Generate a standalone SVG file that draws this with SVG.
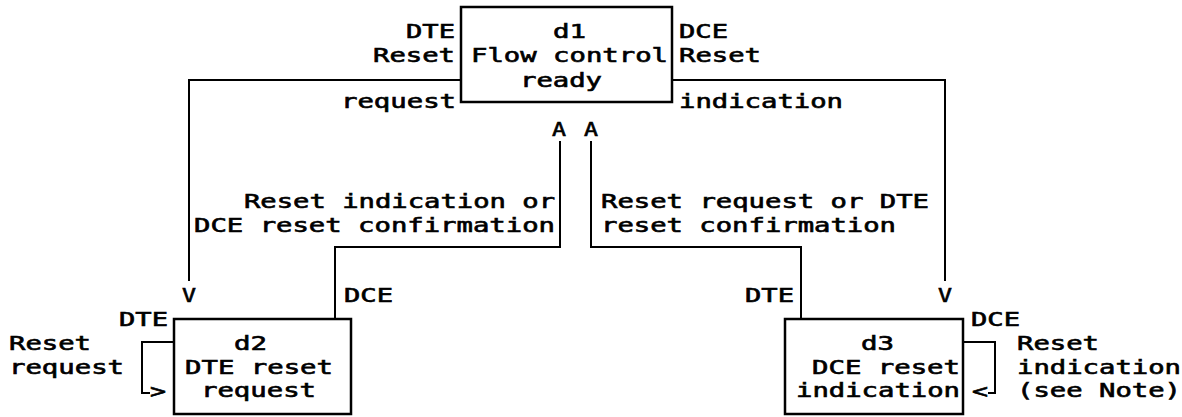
<svg xmlns="http://www.w3.org/2000/svg" width="1182" height="417" viewBox="0 0 1182 417">
<style>
  text { font-family: "DejaVu Sans Mono", "Liberation Mono", monospace; font-size: 19px; fill: #000; stroke: #000; stroke-width: 0.6px; }
  .box { fill: #fff; stroke: #000; stroke-width: 2.5; }
  .conn { fill: none; stroke: #000; stroke-width: 2; }
</style>
<rect width="1182" height="417" fill="#fff"/>
<g id="connectors">
  <path class="conn" d="M461,80 H189 V281"/>
  <path class="conn" d="M672,80 H945 V281"/>
  <path class="conn" d="M560,141 V247 H335 V319"/>
  <path class="conn" d="M591,141 V247 H801 V319"/>
  <path class="conn" d="M174,342 H142 V393 H150"/>
  <path class="conn" d="M963,342 H995 V393 H988"/>
  <text x="182" y="302" textLength="14" lengthAdjust="spacingAndGlyphs">V</text>
  <text x="938" y="302" textLength="14" lengthAdjust="spacingAndGlyphs">V</text>
  <text x="552" y="136" textLength="14" lengthAdjust="spacingAndGlyphs">A</text>
  <text x="584" y="136" textLength="14" lengthAdjust="spacingAndGlyphs">A</text>
  <text x="150" y="398" textLength="16" lengthAdjust="spacingAndGlyphs">&gt;</text>
  <text x="972" y="398" textLength="16" lengthAdjust="spacingAndGlyphs">&lt;</text>
  <text x="406" y="38" textLength="49" lengthAdjust="spacingAndGlyphs">DTE</text>
  <text x="373" y="62" textLength="82" lengthAdjust="spacingAndGlyphs">Reset</text>
  <text x="341" y="108" textLength="115" lengthAdjust="spacingAndGlyphs">request</text>
  <text x="679" y="38" textLength="49" lengthAdjust="spacingAndGlyphs">DCE</text>
  <text x="679" y="62" textLength="82" lengthAdjust="spacingAndGlyphs">Reset</text>
  <text x="679" y="108" textLength="164" lengthAdjust="spacingAndGlyphs">indication</text>
  <text x="244" y="208" textLength="311" lengthAdjust="spacingAndGlyphs">Reset indication or</text>
  <text x="194" y="232" textLength="361" lengthAdjust="spacingAndGlyphs">DCE reset confirmation</text>
  <text x="601" y="208" textLength="328" lengthAdjust="spacingAndGlyphs">Reset request or DTE</text>
  <text x="601" y="232" textLength="295" lengthAdjust="spacingAndGlyphs">reset confirmation</text>
  <text x="344" y="302" textLength="49" lengthAdjust="spacingAndGlyphs">DCE</text>
  <text x="745" y="302" textLength="49" lengthAdjust="spacingAndGlyphs">DTE</text>
  <text x="119" y="326" textLength="49" lengthAdjust="spacingAndGlyphs">DTE</text>
  <text x="971" y="326" textLength="49" lengthAdjust="spacingAndGlyphs">DCE</text>
  <text x="9" y="350" textLength="82" lengthAdjust="spacingAndGlyphs">Reset</text>
  <text x="9" y="374" textLength="115" lengthAdjust="spacingAndGlyphs">request</text>
  <text x="1017" y="350" textLength="82" lengthAdjust="spacingAndGlyphs">Reset</text>
  <text x="1017" y="374" textLength="164" lengthAdjust="spacingAndGlyphs">indication</text>
  <text x="1017" y="397" textLength="164" lengthAdjust="spacingAndGlyphs">(see Note)</text>
</g>
<g id="d1">
  <rect class="box" x="461" y="7" width="211" height="95"/>
  <text x="553" y="38" textLength="33" lengthAdjust="spacingAndGlyphs">d1</text>
  <text x="471" y="62" textLength="197" lengthAdjust="spacingAndGlyphs">Flow control</text>
  <text x="520" y="87" textLength="82" lengthAdjust="spacingAndGlyphs">ready</text>
</g>
<g id="d2">
  <rect class="box" x="174" y="319" width="177" height="95"/>
  <text x="234" y="350" textLength="33" lengthAdjust="spacingAndGlyphs">d2</text>
  <text x="185" y="374" textLength="148" lengthAdjust="spacingAndGlyphs">DTE reset</text>
  <text x="201" y="397" textLength="115" lengthAdjust="spacingAndGlyphs">request</text>
</g>
<g id="d3">
  <rect class="box" x="785" y="319" width="178" height="95"/>
  <text x="861" y="350" textLength="33" lengthAdjust="spacingAndGlyphs">d3</text>
  <text x="812" y="374" textLength="148" lengthAdjust="spacingAndGlyphs">DCE reset</text>
  <text x="796" y="397" textLength="164" lengthAdjust="spacingAndGlyphs">indication</text>
</g>
</svg>
